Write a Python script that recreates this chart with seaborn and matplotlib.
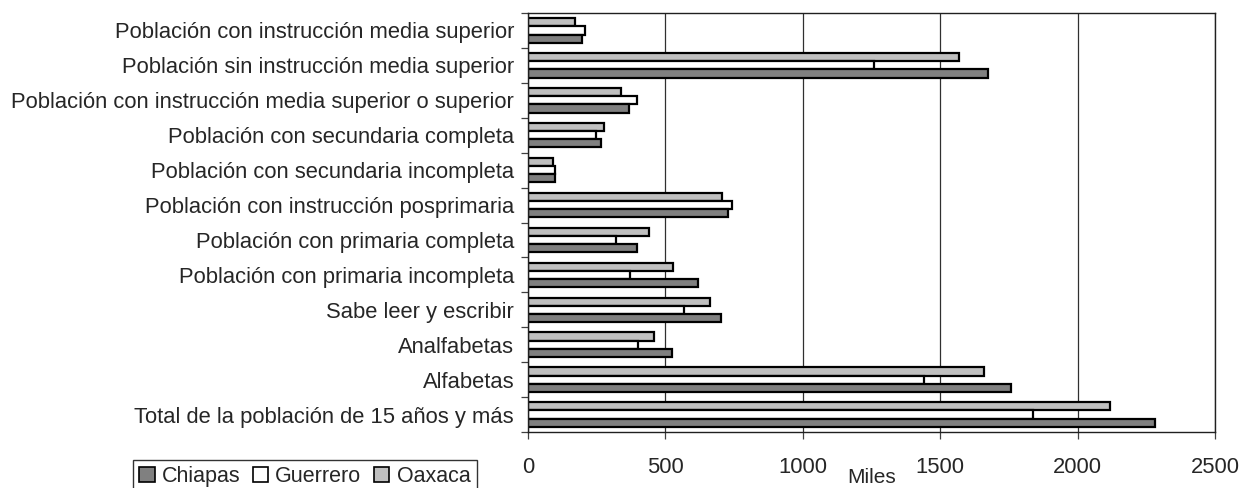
import numpy as np
import pandas as pd
import matplotlib.pyplot as plt
from matplotlib.patches import Patch
from matplotlib.ticker import FixedLocator
import seaborn as sns

# categories, top to bottom as shown
categories = [
    'Población con instrucción media superior',
    'Población sin instrucción media superior',
    'Población con instrucción media superior o superior',
    'Población con secundaria completa',
    'Población con secundaria incompleta',
    'Población con instrucción posprimaria',
    'Población con primaria completa',
    'Población con primaria incompleta',
    'Sabe leer y escribir',
    'Analfabetas',
    'Alfabetas',
    'Total de la población de 15 años y más',
]

# values in thousands (Miles)
chiapas = [196, 1674, 368, 265, 98, 728, 397, 619, 702, 524, 1757, 2282]
guerrero = [207, 1259, 397, 247, 98, 742, 320, 371, 568, 400, 1441, 1838]
oaxaca = [171, 1568, 338, 277, 91, 706, 440, 528, 662, 458, 1659, 2118]

states = ['Chiapas', 'Guerrero', 'Oaxaca']
colors = {'Chiapas': '#808080', 'Guerrero': '#FFFFFF', 'Oaxaca': '#C0C0C0'}

df = pd.DataFrame({
    'Categoria': categories * 3,
    'Estado': ['Chiapas'] * 12 + ['Guerrero'] * 12 + ['Oaxaca'] * 12,
    'Miles': chiapas + guerrero + oaxaca,
})

sns.set_style('white')
plt.rcParams['font.family'] = ['Liberation Sans', 'DejaVu Sans']

fig = plt.figure(figsize=(12.42, 4.88), dpi=100)
ax = fig.add_axes([528 / 1242, 1 - 432 / 488, (1215 - 528) / 1242, (432 - 13) / 488])

# Oaxaca drawn on top within each group, Chiapas at bottom
sns.barplot(data=df, y='Categoria', x='Miles', hue='Estado', order=categories,
            hue_order=['Oaxaca', 'Guerrero', 'Chiapas'], palette=colors,
            saturation=1, width=0.7, edgecolor='black', linewidth=1.6,
            orient='h', legend=False, ax=ax)

ax.set_xlim(0, 2500)
ax.set_ylim(len(categories) - 0.5, -0.5)
ax.set_xticks([0, 500, 1000, 1500, 2000, 2500])
ax.xaxis.grid(True, color='#303030', linewidth=0.9)
ax.set_axisbelow(True)

for s in ax.spines.values():
    s.set_color('#202020')
    s.set_linewidth(1.0)

ax.tick_params(axis='x', direction='out', length=5, width=0.9, color='#404040',
               labelsize=15.8, pad=13, bottom=True)
ax.tick_params(axis='y', which='major', length=0, labelsize=15.8, pad=10)
ax.yaxis.set_minor_locator(FixedLocator(np.arange(-0.5, len(categories), 1)))
ax.tick_params(axis='y', which='minor', direction='out', length=5, width=0.9,
               color='#404040', left=True)

ax.set_ylabel('')
ax.set_xlabel('Miles', fontsize=15, labelpad=-7)

handles = [Patch(facecolor=colors[s], edgecolor='black', linewidth=1.2, label=s)
           for s in states]
fig.legend(handles=handles, loc='lower left', bbox_to_anchor=(133 / 1242, -0.012),
           ncol=3, fontsize=15.5, frameon=True, fancybox=False, edgecolor='black',
           handlelength=0.7, handleheight=0.7, handletextpad=0.33,
           columnspacing=0.6, borderpad=0.3, borderaxespad=0)

fig.savefig('out.png', dpi=100)
